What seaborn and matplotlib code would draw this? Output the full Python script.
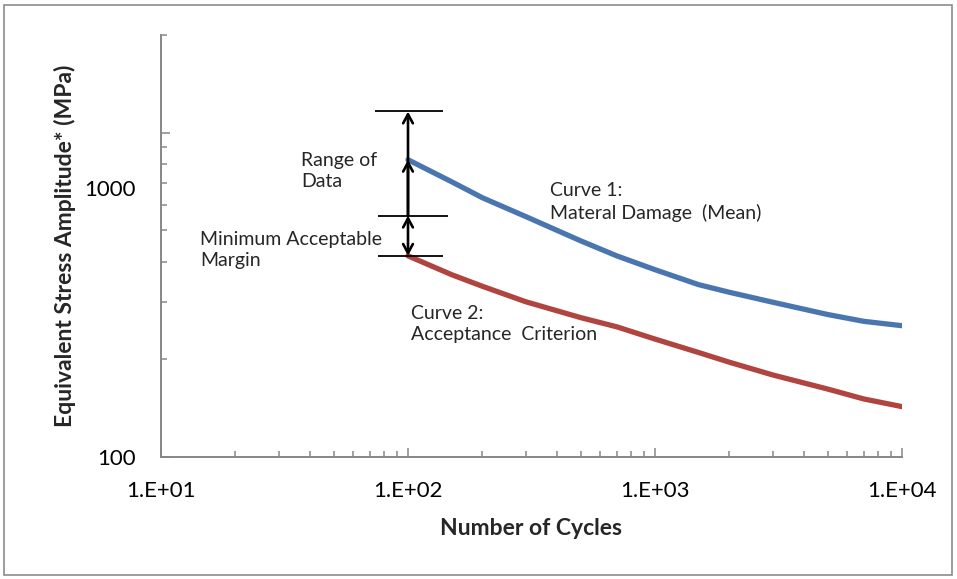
import numpy as np
import pandas as pd
import matplotlib
matplotlib.use('Agg')
import matplotlib.pyplot as plt
import matplotlib.ticker as mticker
from matplotlib.transforms import ScaledTranslation
from matplotlib.patches import Rectangle
import seaborn as sns

# ============================================================
# DATA
# ============================================================
cycles = [100, 150, 200, 300, 500, 700, 1000, 1500, 2000, 3000, 5000, 7000, 10000]
curve1_mean = [825, 706, 630, 551, 464, 417, 378, 340, 322, 300, 275, 262, 254]
curve2_accept = [417, 365, 336, 301, 269, 252, 231, 210, 196, 179, 162, 151, 143]

x_ticks = [10, 100, 1000, 10000]
x_tick_labels = ['1.E+01', '1.E+02', '1.E+03', '1.E+04']
y_ticks = [100, 1000]
y_tick_labels = ['100', '1000']

# annotation bars at N = 100
bar_levels = [1162, 555, 417]
bar_x_from = [73.5, 75.3, 75.3]
bar_x_to = [139, 145, 139]

df = pd.DataFrame({
    'cycles': cycles * 2,
    'stress': curve1_mean + curve2_accept,
    'curve': ['Curve 1'] * len(cycles) + ['Curve 2'] * len(cycles),
})

# ============================================================
# PLOT
# ============================================================
sns.set_style('white')
plt.rcParams['font.family'] = ['Lato', 'DejaVu Sans']

fig = plt.figure(figsize=(9.57, 5.79), dpi=100)
ax = fig.add_axes([161 / 957, 1 - 457 / 579, 741 / 957, 422 / 579])

sns.lineplot(data=df, x='cycles', y='stress', hue='curve',
             palette={'Curve 1': '#4A76B0', 'Curve 2': '#B0443F'},
             linewidth=3.8, legend=False, ax=ax, solid_capstyle='round')

ax.set_xscale('log')
ax.set_yscale('log')
ax.set_xlim(10, 10000)
ax.set_ylim(100, 2000)

ax.set_xticks(x_ticks)
ax.set_xticklabels(x_tick_labels)
ax.set_yticks(y_ticks)
ax.set_yticklabels(y_tick_labels)
ax.xaxis.set_minor_locator(mticker.LogLocator(base=10, subs=np.arange(2, 10)))
ax.yaxis.set_minor_locator(mticker.LogLocator(base=10, subs=np.arange(2, 10)))
ax.xaxis.set_minor_formatter(mticker.NullFormatter())
ax.yaxis.set_minor_formatter(mticker.NullFormatter())

gray = '#878787'
for s in ['top', 'right']:
    ax.spines[s].set_visible(False)
for s in ['left', 'bottom']:
    ax.spines[s].set_color(gray)
    ax.spines[s].set_linewidth(1.4)

# seaborn's white style hides ticks, switch them back on
ax.tick_params(which='both', bottom=True, left=True, top=False, right=False)
ax.tick_params(which='major', direction='in', length=6.5, width=1.1, color=gray,
               labelsize=16, labelcolor='black')
ax.tick_params(which='minor', direction='in', length=4.5, width=1.1, color=gray)
ax.tick_params(axis='x', which='both', pad=17)
ax.tick_params(axis='y', which='both', pad=18)

# the "1000" label sits lower than its tick in the original
lbl = ax.yaxis.get_major_ticks()[1].label1
lbl.set_transform(lbl.get_transform() + ScaledTranslation(0, -55 / 100, fig.dpi_scale_trans))

ax.set_xlabel('Number of Cycles', fontsize=16.5, fontweight='bold')
ax.set_ylabel('Equivalent Stress Amplitude* (MPa)', fontsize=16.5, fontweight='bold')
ax.xaxis.set_label_coords(0.5, -0.145)
ax.yaxis.set_label_coords(-0.115, 0.5)

# bars and arrows
ax.hlines(bar_levels, bar_x_from, bar_x_to, color='black', linewidth=1.3)
arrow = dict(arrowstyle='->,head_length=0.65,head_width=0.35', color='black', lw=1.9,
             shrinkA=0, shrinkB=0)
ax.annotate('', xy=(cycles[0], bar_levels[0]), xytext=(cycles[0], bar_levels[1]),
            arrowprops=arrow)
ax.annotate('', xy=(cycles[0], curve1_mean[0]), xytext=(cycles[0], bar_levels[1]),
            arrowprops=arrow)
ax.annotate('', xy=(cycles[0], bar_levels[2]), xytext=(cycles[0], bar_levels[1]),
            arrowprops=dict(arrow, arrowstyle='<->,head_length=0.65,head_width=0.35'))

txt = dict(fontsize=14, ha='left', va='center', linespacing=1.3)
ax.text(36.9, 761, 'Range of\nData', **txt)
ax.text(14.4, 435, 'Minimum Acceptable\nMargin', **txt)
ax.text(376, 610, 'Curve 1:\nMateral Damage  (Mean)', **txt)
ax.text(102.6, 257, 'Curve 2:\nAcceptance  Criterion', **txt)

# outer chart border
fig.patches.append(Rectangle((4 / 957, 4 / 579), 948 / 957, 570 / 579,
                             transform=fig.transFigure, fill=False,
                             edgecolor='#8C8C8C', linewidth=1.2))

plt.savefig('out.png', dpi=100)
plt.close()
